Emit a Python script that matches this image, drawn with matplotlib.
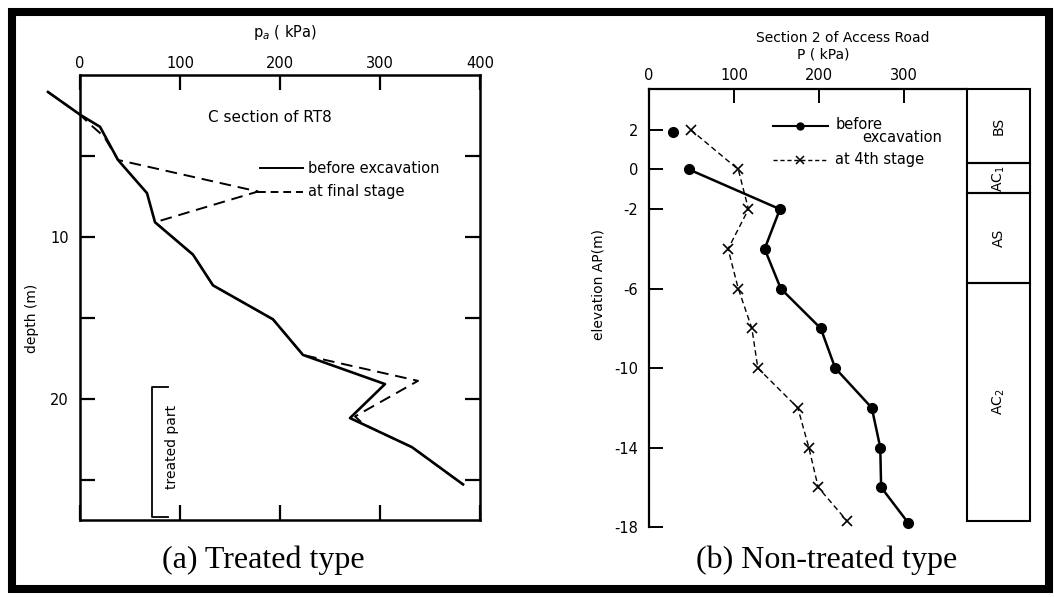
import matplotlib.pyplot as plt
from matplotlib.patches import Rectangle

plt.rcParams['font.family'] = ['DejaVu Sans']

# (a) treated type, C section of RT8 -- depth (m) vs p_a (kPa)
depth_before = [1.05, 2.45, 3.2, 5.25, 7.3, 9.1, 11.1, 13.0, 15.1, 17.3, 19.1, 21.2, 23.0, 25.3]
pa_before = [-32, 0, 20, 38, 67, 75, 113, 133, 193, 223, 305, 270, 332, 383]
depth_final = [1.05, 2.45, 3.1, 3.8, 5.25, 7.2, 9.1, 11.1, 13.0, 15.1, 17.3, 18.9, 21.1, 21.6,
               23.0, 25.3]
pa_final = [-32, 0, 11, 24, 38, 178, 75, 113, 133, 193, 223, 338, 275, 284, 332, 383]
treated_top, treated_bottom = 19.3, 27.3

# (b) non-treated type, section 2 of access road -- elevation AP (m) vs P (kPa)
elev_before = [1.9, 0, -2, -4, -6, -8, -10, -12, -14, -16, -17.8]
p_before = [28, 47, 154, 136, 155, 202, 219, 262, 272, 273, 305]
elev_4th = [2, 0, -2, -4, -6, -8, -10, -12, -14, -16, -17.7]
p_4th = [49, 105, 117, 93, 105, 121, 128, 175, 188, 199, 233]

layer_names = ['BS', 'AC$_1$', 'AS', 'AC$_2$']
layer_tops = [4.05, 0.3, -1.2, -5.7]
layer_bottoms = [0.3, -1.2, -5.7, -17.7]

W, H = 1054, 597
fig = plt.figure(figsize=(W / 100, H / 100), dpi=100)


def px_axes(x0, y0, x1, y1):
    return fig.add_axes([x0 / W, 1 - y1 / H, (x1 - x0) / W, (y1 - y0) / H])


def fxy(x, y):
    return x / W, 1 - y / H


fs = 10.5

# ---- left panel ----
ax1 = px_axes(80, 75, 480, 520)
ax1.set_xlim(0, 400)
ax1.set_ylim(27.5, 0)
ax1.set_xticks([0, 100, 200, 300, 400])
ax1.set_yticks([5, 10, 15, 20, 25], ['', '10', '', '20', ''])
ax1.tick_params(axis='x', top=True, bottom=True, labeltop=True, labelbottom=False,
                direction='in', length=11, width=1.6, pad=3, labelsize=fs)
ax1.tick_params(axis='y', left=True, right=True, direction='in', length=11,
                width=1.6, pad=8, labelsize=fs)
for s in ax1.spines.values():
    s.set_linewidth(1.8)

ax1.plot(pa_before, depth_before, color='k', lw=1.9, clip_on=False)
ax1.plot(pa_final, depth_final, color='k', lw=1.4, ls=(0, (6, 3.5)), clip_on=False)

# legend
ax1.plot([180, 223], [5.75, 5.75], color='k', lw=1.4)
ax1.plot([178, 223], [7.2, 7.2], color='k', lw=1.4, ls=(0, (4, 2.5)))
ax1.text(228, 5.75, 'before excavation', fontsize=fs, va='center')
ax1.text(228, 7.2, 'at final stage', fontsize=fs, va='center')

# treated part bracket
ax1.plot([88, 72, 72, 88], [treated_top, treated_top, treated_bottom, treated_bottom],
         color='k', lw=1.3)
ax1.text(92, (treated_top + treated_bottom) / 2 - 0.3, 'treated part', rotation=90,
         fontsize=fs - 0.5, ha='center', va='center')

fig.text(*fxy(270, 117), 'C section of RT8', fontsize=fs + 0.5, ha='center', va='center')
fig.text(*fxy(285, 33), 'p$_a$ ( kPa)', fontsize=fs, ha='center', va='center')
fig.text(*fxy(32, 318), 'depth (m)', fontsize=fs - 0.5, rotation=90, ha='center', va='center')

# ---- right panel ----
ax2 = px_axes(649, 89, 967, 527)
ax2.set_xlim(0, 374)
ax2.set_ylim(-18, 4.05)
ax2.set_xticks([0, 100, 200, 300])
ytk = [2, 0, -2, -6, -10, -14, -18]
ax2.set_yticks(ytk, [str(v) for v in ytk])
ax2.tick_params(axis='x', top=True, bottom=False, labeltop=True, labelbottom=False,
                direction='in', length=10, width=1.4, pad=4, labelsize=fs)
ax2.tick_params(axis='y', direction='in', length=10, width=1.4, pad=8, labelsize=fs)
ax2.spines['bottom'].set_visible(False)
ax2.spines['right'].set_visible(False)
ax2.spines['top'].set_linewidth(1.6)
ax2.spines['left'].set_linewidth(1.6)

ax2.plot(p_before[0], elev_before[0], 'o', color='k', ms=7, clip_on=False)
ax2.plot(p_before[1:], elev_before[1:], '-o', color='k', ms=7, lw=1.8, clip_on=False)
ax2.plot(p_4th, elev_4th, color='k', lw=1.0, ls=(0, (4, 2.5)), marker='x', ms=7,
         mew=1.2, clip_on=False)

# legend
ax2.plot([146, 211], [2.2, 2.2], color='k', lw=1.5)
ax2.plot([178], [2.2], 'o', color='k', ms=5)
ax2.plot([146, 211], [0.5, 0.5], color='k', lw=1.0, ls=(0, (3, 2)))
ax2.plot([178], [0.5], 'x', color='k', ms=6, mew=1.1)
ax2.text(219, 2.25, 'before', fontsize=fs, va='center')
ax2.text(251, 1.6, 'excavation', fontsize=fs, va='center')
ax2.text(219, 0.5, 'at 4th stage', fontsize=fs, va='center')

fig.text(*fxy(843, 38), 'Section 2 of Access Road', fontsize=fs - 0.5, ha='center', va='center')
fig.text(*fxy(823, 55), 'P ( kPa)', fontsize=fs - 0.5, ha='center', va='center')
fig.text(*fxy(598, 285), 'elevation AP(m)', fontsize=fs - 0.5, rotation=90,
         ha='center', va='center')

# soil column
ax3 = px_axes(967, 89, 1030, 527)
ax3.set_xlim(0, 1)
ax3.set_ylim(-18, 4.05)
ax3.axis('off')
for name, top, bot in zip(layer_names, layer_tops, layer_bottoms):
    ax3.add_patch(Rectangle((0, bot), 1, top - bot, fill=False, ec='k', lw=1.5,
                            clip_on=False))
    ax3.text(0.5, (top + bot) / 2, name, rotation=90, fontsize=fs - 0.5,
             ha='center', va='center')

# captions
cap = dict(family='Liberation Serif', fontsize=23, ha='center', va='center')
fig.text(*fxy(263, 560), '(a) Treated type', **cap)
fig.text(*fxy(827, 560), '(b) Non-treated type', **cap)

# outer black frame
fig.patches.append(Rectangle((12 / W, 8 / H), 1037 / W, 577 / H, transform=fig.transFigure,
                             fill=False, ec='k', lw=5.8))

fig.savefig('out.png', dpi=100)
